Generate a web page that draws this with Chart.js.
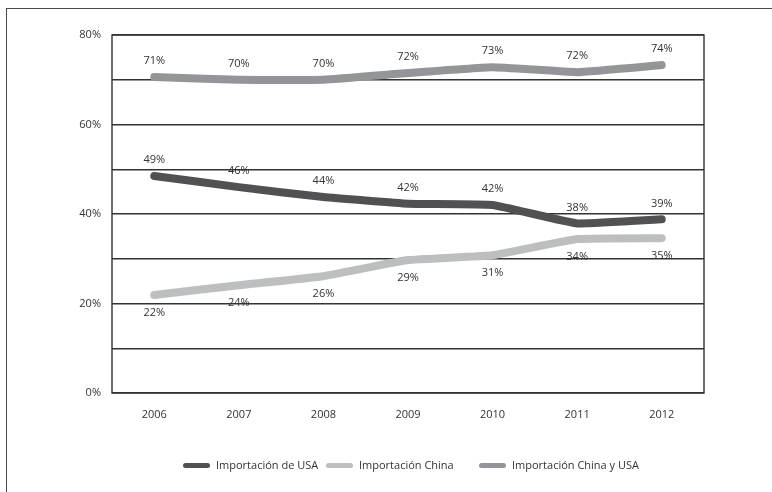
<!DOCTYPE html>
<html>
<head>
<meta charset="utf-8">
<script src="https://cdn.jsdelivr.net/npm/chart.js@4"></script>
<style>
  body { margin: 0; background: #fff; }
  #wrap { position: relative; width: 772px; height: 492px; overflow: hidden; }
  #frame { position: absolute; left: 6px; top: 8px; right: -10px; bottom: -10px;
           border-top: 1.5px solid #4a4a4a; border-left: 1.5px solid #4a4a4a; }
  canvas { position: absolute; left: 0; top: 0; }
  .item { position: absolute; top: 457px; font: 11px 'Open Sans', 'DejaVu Sans', sans-serif;
          color: #333; white-space: nowrap; line-height: 16px; }
  .item i { display: inline-block; width: 27px; height: 5px; border-radius: 3px;
            vertical-align: middle; margin-right: 6px; position: relative; top: -1px; }
</style>
</head>
<body>
<div id="wrap">
  <div id="frame"></div>
  <canvas id="myChart" width="772" height="492"></canvas>
  <div id="leyenda"></div>
</div>
<script>
// Datos
const anios = ["2006", "2007", "2008", "2009", "2010", "2011", "2012"];
const importUSA = [48.5, 46.0, 43.8, 42.3, 42.0, 37.9, 38.8];
const importChina = [21.9, 24.1, 26.1, 29.7, 30.8, 34.4, 34.6];
const importAmbos = [70.6, 70.0, 70.0, 71.5, 72.8, 71.7, 73.3];
// Etiquetas impresas sobre cada punto
const etiquetasUSA = ["49%", "46%", "44%", "42%", "42%", "38%", "39%"];
const etiquetasChina = ["22%", "24%", "26%", "29%", "31%", "34%", "35%"];
const etiquetasAmbos = ["71%", "70%", "70%", "72%", "73%", "72%", "74%"];

const fuente = "'Open Sans', 'DejaVu Sans', sans-serif";
const gris = "#333";

// plugin: marco del area y etiquetas de valores
const etiquetasPlugin = {
  id: "etiquetas",
  afterDatasetsDraw(chart) {
    const ctx = chart.ctx;
    const { left, top, right, bottom } = chart.chartArea;
    ctx.save();
    ctx.strokeStyle = "#333";
    ctx.lineWidth = 1.4;
    ctx.strokeRect(left, top, right - left, bottom - top);
    ctx.font = "11px " + fuente;
    ctx.fillStyle = gris;
    ctx.textAlign = "center";
    ctx.textBaseline = "middle";
    chart.data.datasets.forEach((ds, i) => {
      const meta = chart.getDatasetMeta(i);
      meta.data.forEach((pt, j) => {
        const dy = ds.debajo ? 18 : -16;
        ctx.fillText(ds.etiquetas[j], pt.x, pt.y + dy);
      });
    });
    ctx.restore();
  }
};

function crearDataset(label, data, color, etiquetas, debajo) {
  return {
    label, data, etiquetas, debajo,
    borderColor: color,
    backgroundColor: color,
    borderWidth: 8,
    borderCapStyle: "round",
    borderJoinStyle: "round",
    pointRadius: 0,
    tension: 0.1
  };
}

const datasets = [
  crearDataset("Importación de USA", importUSA, "#515153", etiquetasUSA, false),
  crearDataset("Importación China", importChina, "#bdbec0", etiquetasChina, true),
  crearDataset("Importación China y USA", importAmbos, "#939598", etiquetasAmbos, false)
];

// leyenda en HTML
const posLeyenda = [183, 326, 479];
const leyenda = document.querySelector("#leyenda");
datasets.forEach((ds, i) => {
  const div = document.createElement("div");
  div.className = "item";
  div.style.left = posLeyenda[i] + "px";
  div.innerHTML = '<i style="background:' + ds.borderColor + '"></i>' + ds.label;
  leyenda.appendChild(div);
});

const canvas = document.querySelector("#myChart");
new Chart(canvas, {
  type: "line",
  data: { labels: anios, datasets },
  options: {
    responsive: false,
    animation: false,
    layout: { padding: { top: 35, right: 68, bottom: 43, left: 0 } },
    plugins: {
      tooltip: { enabled: false },
      legend: { display: false }
    },
    scales: {
      x: {
        offset: true,
        grid: { display: false },
        border: { display: false },
        ticks: { font: { family: fuente, size: 11 }, color: gris, padding: 7 },
        afterFit(scale) { scale.height = 56; }
      },
      y: {
        min: 0,
        max: 80,
        grid: { color: "#333", lineWidth: 1.4, drawTicks: false },
        border: { display: false },
        ticks: {
          stepSize: 10,
          padding: 11,
          font: { family: fuente, size: 11 },
          color: gris,
          callback: (v) => (v % 20 === 0 ? v + "%" : "")
        },
        afterFit(scale) { scale.width = 112; }
      }
    }
  },
  plugins: [etiquetasPlugin]
});
</script>
</body>
</html>
